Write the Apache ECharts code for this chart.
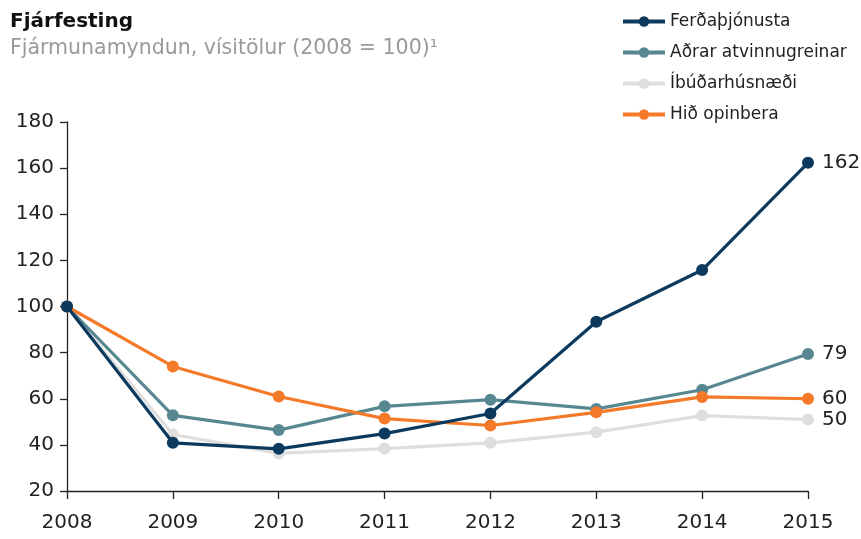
<!DOCTYPE html>
<html><head><meta charset="utf-8">
<script src="https://cdn.jsdelivr.net/npm/echarts@6/dist/echarts.min.js"></script>
<style>html,body{margin:0;padding:0;background:#fff}#c{width:861px;height:539px}</style>
</head><body><div id="c"></div>
<script>
const years = ['2008','2009','2010','2011','2012','2013','2014','2015'];
const seriesNames = ['Ferðaþjónusta','Aðrar atvinnugreinar','Íbúðarhúsnæði','Hið opinbera'];
const ferdathjonusta = [100, 40.9, 38.3, 44.9, 53.6, 93.4, 115.8, 162.3];
const adrar = [100, 52.8, 46.4, 56.7, 59.6, 55.6, 63.9, 79.4];
const ibudar = [100, 44.5, 36.3, 38.4, 40.9, 45.5, 52.7, 51.0];
const opinbera = [100, 74.0, 61.0, 51.4, 48.4, 54.1, 60.8, 60.0];
const endLabels = ['162','79','50','60'];
const colors = ['#0b3a5e','#578891','#dedede','#f47a2a'];
const font = '"DejaVu Sans", sans-serif';
const dataSets = [ferdathjonusta, adrar, ibudar, opinbera];
const order = [2, 1, 3, 0];
const chart = echarts.init(document.getElementById('c'), null, {renderer:'canvas'});
chart.setOption({
  animation:false,
  color: colors,
  title:[
    {text:'Fjárfesting', left:5, top:7, textStyle:{fontFamily:font, fontSize:20, fontWeight:'bold', color:'#111'}},
    {text:'Fjármunamyndun, vísitölur (2008 = 100)¹', left:5, top:33, textStyle:{fontFamily:font, fontSize:20.5, fontWeight:'normal', color:'#9a9a9a'}}
  ],
  legend:{
    orient:'vertical', left:616, top:8, itemWidth:42, itemHeight:13, itemGap:14,
    data: seriesNames,
    lineStyle:{width:4},
    textStyle:{fontFamily:font, fontSize:17, color:'#222'}
  },
  grid:{left:67, right:53, top:122, bottom:48},
  xAxis:{
    type:'category', data: years, boundaryGap:false,
    axisLine:{lineStyle:{color:'#222', width:1.3}},
    axisTick:{show:true, length:8, lineStyle:{color:'#222', width:1.3}},
    axisLabel:{fontFamily:font, fontSize:20, color:'#222', margin:22}
  },
  yAxis:{
    type:'value', min:20, max:180, interval:20,
    axisLine:{show:true, lineStyle:{color:'#222', width:1.3}},
    axisTick:{show:true, length:7, lineStyle:{color:'#222', width:1.3}},
    splitLine:{show:false},
    axisLabel:{fontFamily:font, fontSize:20, color:'#222', margin:13}
  },
  series: order.map(i => ({
    name: seriesNames[i], type:'line', data: dataSets[i], z: 2 + order.indexOf(i),
    symbol:'circle', symbolSize:12, showAllSymbol:true,
    lineStyle:{width:3.2, color: colors[i]},
    itemStyle:{color: colors[i]},
    endLabel:{show:true, formatter: () => endLabels[i], fontFamily:font, fontSize:20, color:'#222', distance:14}
  }))
});
</script></body></html>
